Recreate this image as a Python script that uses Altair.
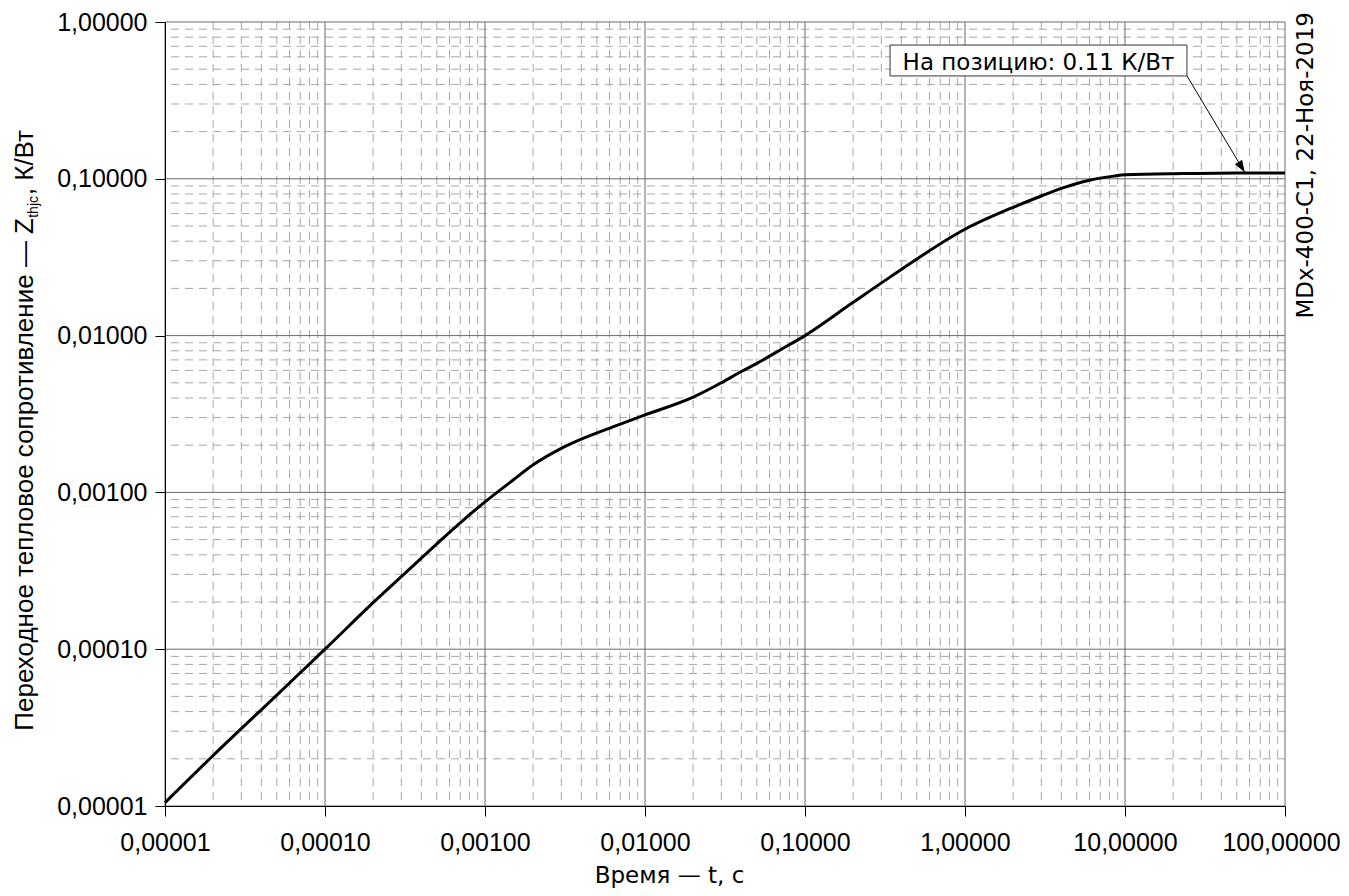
import altair as alt
import pandas as pd

# --- data ---
t_values = [1e-5, 2e-5, 5e-5, 1e-4, 2e-4, 3e-4, 5e-4, 7e-4, 1e-3, 1.5e-3, 2e-3, 3e-3,
            4.1e-3, 6.3e-3, 1e-2, 2e-2, 3e-2, 4e-2, 5e-2, 7e-2, 0.1, 0.2, 0.34, 1.0,
            2.0, 3.0, 4.0, 6.0, 8.5, 10.0, 23.0, 50.0, 100.0]
z_values = [1.05e-5, 2.1e-5, 5.1e-5, 1.0e-4, 1.98e-4, 2.9e-4, 4.7e-4, 6.4e-4, 8.7e-4, 1.2e-3,
            1.5e-3, 1.91e-3, 2.21e-3, 2.62e-3, 3.12e-3, 4.05e-3, 5.0e-3, 5.9e-3, 6.65e-3,
            8.1e-3, 0.01, 0.0163, 0.0236, 0.0477, 0.0658, 0.0777, 0.0869, 0.098, 0.104,
            0.106, 0.108, 0.109, 0.109]

x_major = [1e-5, 1e-4, 1e-3, 1e-2, 1e-1, 1.0, 10.0, 100.0]
y_major = [1e-5, 1e-4, 1e-3, 1e-2, 1e-1, 1.0]
x_minor = [k * 10.0 ** d for d in range(-5, 2) for k in range(2, 10)]
y_minor = [k * 10.0 ** d for d in range(-5, 0) for k in range(2, 10)]

x_title = "Время — t, с"
y_title_main = "Переходное тепловое сопротивление — Z"
y_title_sub = "thjc"
y_title_end = ", К/Вт"
side_text = "MDx-400-C1, 22-Ноя-2019"
note_text = "На позицию: 0.11 К/Вт"
note_value = 0.11
note_t = 56.0

W, H = 1120, 784
ARIAL = "Liberation Sans"
TAHOMA = "DejaVu Sans"

xs = alt.Scale(type="log", domain=[1e-5, 100], nice=False)
ys = alt.Scale(type="log", domain=[1e-5, 1], nice=False)

label_expr = "replace(format(datum.value, '.5f'), '.', ',')"

curve = pd.DataFrame({"t": t_values, "z": z_values})
gx_minor = pd.DataFrame({"t": x_minor})
gy_minor = pd.DataFrame({"z": y_minor})
gx_major = pd.DataFrame({"t": x_major})
gy_major = pd.DataFrame({"z": y_major})
one = pd.DataFrame({"a": [0]})

minor_style = dict(color="#a8a8a8", strokeWidth=1, strokeDash=[8, 6])
major_style = dict(color="#6a6a6a", strokeWidth=1)

x_axis = alt.Axis(values=x_major, labelExpr=label_expr, grid=False, zindex=1,
                  tickSize=10, tickColor="black", domainColor="black",
                  labelFont=ARIAL, labelFontSize=25, labelColor="black",
                  labelPadding=14, labelOverlap=False, labelFlush=False,
                  labelOffset={"condition": {"test": "datum.value >= 100", "value": -4},
                               "value": 0},
                  title=x_title, titleFont=TAHOMA, titleFontSize=23,
                  titleFontWeight="normal", titleColor="black",
                  titleX=504, titleY=76, titleBaseline="alphabetic", titleAlign="center")
y_axis = alt.Axis(values=y_major, labelExpr=label_expr, grid=False, zindex=1,
                  tickSize=10, tickColor="black", domainColor="black",
                  labelFont=ARIAL, labelFontSize=25, labelColor="black",
                  labelPadding=8, labelOverlap=False, labelFlush=False, title="")


def X(field):
    return alt.X(field, scale=xs, axis=x_axis)


def Y(field):
    return alt.Y(field, scale=ys, axis=y_axis)


l_vmin = alt.Chart(gx_minor).mark_rule(**minor_style).encode(x=X("t:Q"))
l_hmin = alt.Chart(gy_minor).mark_rule(**minor_style).encode(y=Y("z:Q"))
l_vmaj = alt.Chart(gx_major).mark_rule(**major_style).encode(x=X("t:Q"))
l_hmaj = alt.Chart(gy_major).mark_rule(**major_style).encode(y=Y("z:Q"))

line = alt.Chart(curve).mark_line(color="black", strokeWidth=3, interpolate="monotone").encode(
    x=X("t:Q"), y=Y("z:Q"))

# annotation box, text and arrow (data coordinates)
note = pd.DataFrame({"x1": [0.34], "x2": [24.4], "y1": [0.713], "y2": [0.453],
                     "tx": [2.88], "ty": [0.494], "ax": [24.4], "ay": [0.453],
                     "px": [note_t], "py": [note_value], "label": [note_text]})
box = alt.Chart(note).mark_rect(fill="white", stroke="#333333", strokeWidth=1).encode(
    x=X("x1:Q"), x2="x2:Q", y=Y("y1:Q"), y2="y2:Q")
box_text = alt.Chart(note).mark_text(font=TAHOMA, fontSize=23, color="black",
                                     align="center", baseline="alphabetic").encode(
    x=X("tx:Q"), y=Y("ty:Q"), text="label:N")
arrow = alt.Chart(note).mark_rule(color="black", strokeWidth=1).encode(
    x=X("ax:Q"), y=Y("ay:Q"), x2="px:Q", y2="py:Q")
head = alt.Chart(note).mark_point(shape="M0,0 L-0.35,1 L0.35,1 Z", filled=True,
                                  color="black", opacity=1, size=576, angle=149).encode(
    x=X("px:Q"), y=Y("py:Q"))

# y-axis title assembled from text pieces (for the subscript).
# With angle 270 and align "right" each piece ends (its top) at the anchor.
FS = 26
P1_END = 196          # top end of the main piece, plot pixels
SUB_W = 22            # width of the subscript piece
END_W = 66            # width of ", К/Вт"
y_t1 = alt.Chart(one).mark_text(font=ARIAL, fontSize=FS, color="black", angle=270,
                                align="right", baseline="alphabetic", text=y_title_main).encode(
    x=alt.value(-132), y=alt.value(P1_END))
y_t2 = alt.Chart(one).mark_text(font=ARIAL, fontSize=14, color="black", angle=270,
                                align="right", baseline="alphabetic", text=y_title_sub).encode(
    x=alt.value(-127), y=alt.value(P1_END - SUB_W))
y_t3 = alt.Chart(one).mark_text(font=ARIAL, fontSize=FS, color="black", angle=270,
                                align="right", baseline="alphabetic", text=y_title_end).encode(
    x=alt.value(-132), y=alt.value(P1_END - SUB_W - END_W))

side = alt.Chart(one).mark_text(font=TAHOMA, fontSize=23, color="black", angle=270,
                                align="right", baseline="alphabetic", text=side_text).encode(
    x=alt.value(1148), y=alt.value(-10))

chart = alt.layer(
    l_vmin, l_hmin, l_vmaj, l_hmaj, line, box, arrow, head, box_text,
    y_t1, y_t2, y_t3, side
).properties(
    width=W, height=H,
    autosize=alt.AutoSizeParams(type="none"),
    padding={"left": 157, "top": 14, "right": 56, "bottom": 82},
    background="white",
).configure_view(stroke=None)

chart.save("out.html", embed_options={"renderer": "svg", "actions": False})
